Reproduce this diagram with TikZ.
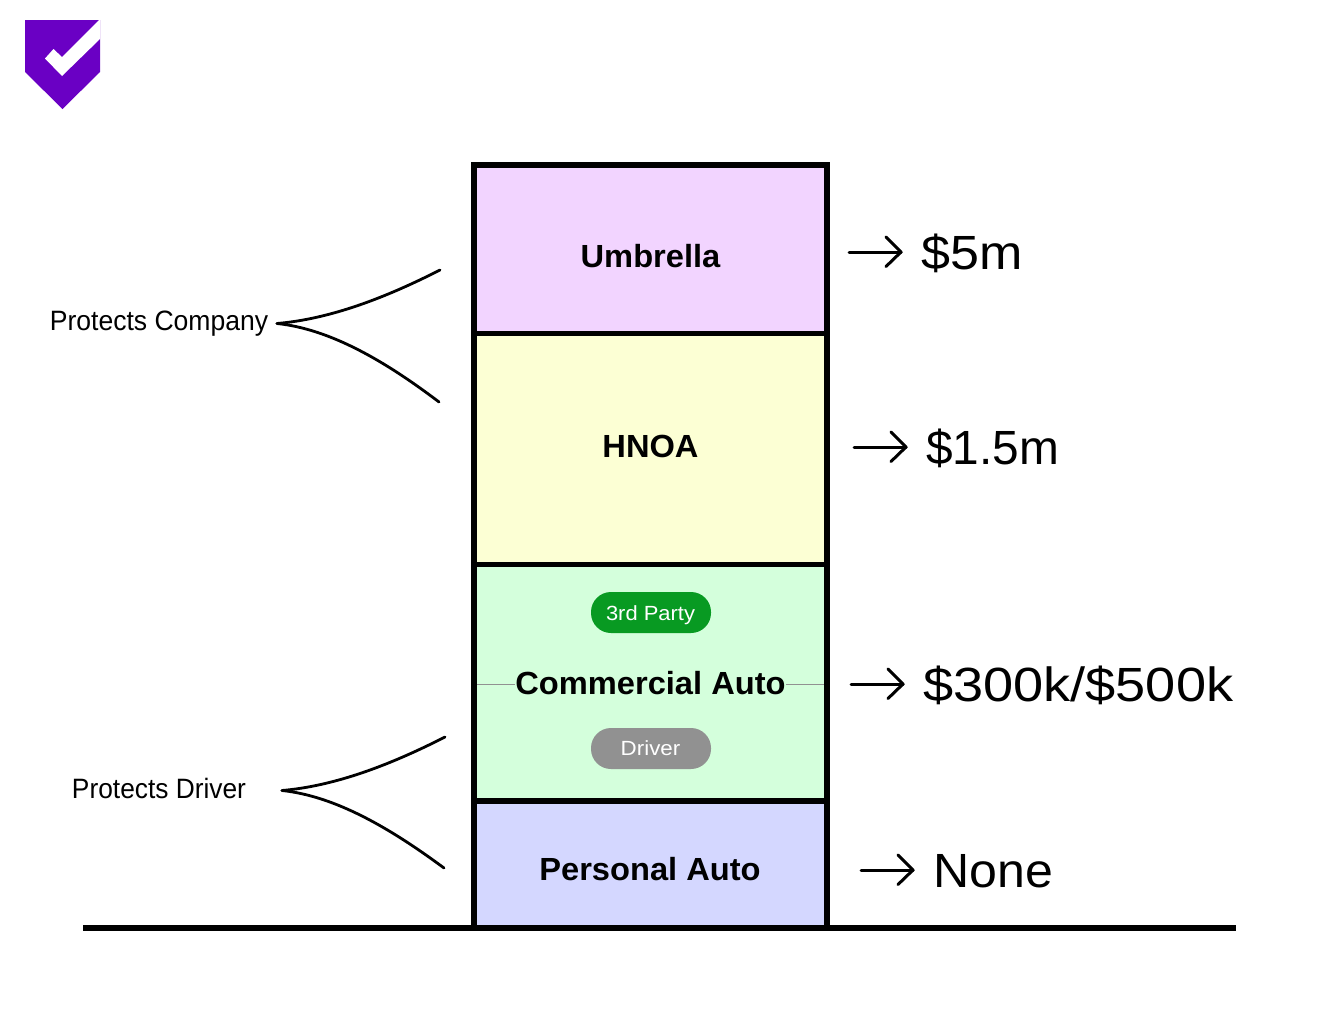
\documentclass[tikz,border=0pt]{standalone}
\usepackage{graphicx}
\usepackage{fontspec}
\setmainfont{Liberation Sans}
\newfontfamily\wide[FakeStretch=1.02]{Liberation Sans}
\usetikzlibrary{calc}
\definecolor{logoC}{HTML}{6A00C4}
\definecolor{umbC}{HTML}{F2D4FF}
\definecolor{hnoaC}{HTML}{FCFFD4}
\definecolor{caC}{HTML}{D4FFDC}
\definecolor{paC}{HTML}{D4D7FF}
\definecolor{pillG}{HTML}{089A22}
\definecolor{pillD}{HTML}{919191}
\newcommand{\sx}[2]{\scalebox{#1}[1]{#2}}
\tikzset{
  layer/.style={draw=black,line width=5.5pt,minimum width=353pt,inner sep=0pt,outer sep=0pt,rectangle},
  title/.style={anchor=base,inner sep=0pt,font=\wide\bfseries\fontsize{32}{36}\selectfont},
  amount/.style={anchor=base west,inner sep=0pt,font=\fontsize{48}{54}\selectfont},
  side/.style={anchor=base,inner sep=0pt,font=\fontsize{28}{32}\selectfont},
  pill/.style={rectangle,rounded corners=20pt,minimum width=120pt,minimum height=41pt,inner sep=0pt},
  pilltext/.style={anchor=base,inner sep=0pt,text=white,font=\fontsize{20.5}{24}\selectfont},
  brace/.style={line width=2.8pt,line cap=round},
  arr/.style={line width=3pt,line join=round,line cap=round}
}
\newcommand{\amtarrow}[2]{%
  \coordinate (s#1) at (#2);
  \draw[arr] ($(s#1)+(1,0)$) -- ++(52,0);
  \draw[arr] ($(s#1)+(38,-15)$) -- ($(s#1)+(53,0)$) -- ($(s#1)+(38,14.5)$);
}
\begin{document}
\begin{tikzpicture}[x=1pt,y=-1pt]
\useasboundingbox (0,0) rectangle (1338,1012);
% logo
\fill[logoC] (25,20) -- (100,20) -- (100,72) -- (62.5,109) -- (25,72) -- cycle;
\fill[white] (99,20) -- (100,20) -- (100,39) -- (62,76) -- (45,58.5) -- (53.5,49) -- (62,57) -- cycle;
% ground
\coordinate (gl) at (83,928);
\coordinate (gr) at (1236,928);
\draw[line width=5.5pt] (gl) -- (gr);
% layers
\node[layer,fill=umbC,minimum height=168.5pt] (umb) at (650.5,249.25) {};
\node[layer,fill=hnoaC,minimum height=231pt] (hnoa) at (650.5,449) {};
\node[layer,fill=paC,minimum height=127pt] (pa) at (650.5,864.5) {};
\node[layer,fill=caC,minimum height=236.5pt] (ca) at (650.5,682.75) {};
% labels
\node[title] (tu) at (650.5,267) {Umbrella};
\node[title] (th) at (650.5,457) {HNOA};
\node[title] (tc) at (650.5,694) {Commercial Auto};
\node[title] (tp) at (650,880) {Personal Auto};
\coordinate (ll) at (477,684.5);
\coordinate (lr) at (824,684.5);
\draw[line width=.6pt,pillD] (ll) -- (tc.west |- ll);
\draw[line width=.6pt,pillD] (tc.east |- lr) -- (lr);
\node[pill,fill=pillG] (p3) at (651,612.5) {};
\node[pilltext] (t3) at (650.5,620) {\sx{1.07}{3rd Party}};
\node[pill,fill=pillD] (pd) at (651,748.5) {};
\node[pilltext] (td) at (650.5,755) {\sx{1.09}{Driver}};
% amounts
\amtarrow{a}{848,252}
\node[amount] (a1) at (921,269) {\sx{1.084}{\$5m}};
\amtarrow{b}{853,447}
\node[amount] (a2) at (926,464) {\sx{0.996}{\$1.5m}};
\amtarrow{c}{850,684}
\node[amount] (a3) at (923,701) {\sx{1.128}{\$300k/\$500k}};
\amtarrow{d}{860,870}
\node[amount] (a4) at (933,887) {\sx{1.043}{None}};
% side labels
\node[side] (sc) at (159,330) {\sx{0.948}{Protects Company}};
\node[side] (sd) at (159,798) {\sx{0.94}{Protects Driver}};
\coordinate (c0) at (277,323.5);
\coordinate (c1) at (440,270);
\coordinate (c2) at (439,402);
\draw[brace] (c0) .. controls (330,319) and (385,298) .. (c1);
\draw[brace] (c0) .. controls (330,329) and (385,361) .. (c2);
\coordinate (d0) at (282,790.5);
\coordinate (d1) at (445,737);
\coordinate (d2) at (444,868);
\draw[brace] (d0) .. controls (335,786) and (390,765) .. (d1);
\draw[brace] (d0) .. controls (335,796) and (390,828) .. (d2);
\end{tikzpicture}
\end{document}
